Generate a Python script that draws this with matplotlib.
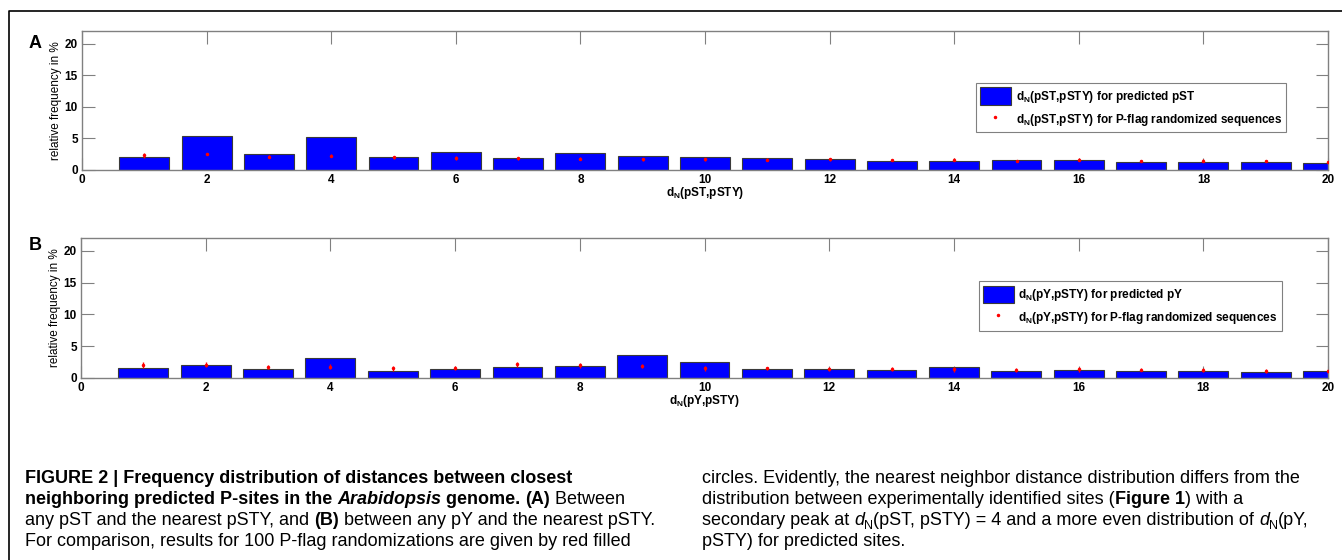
import numpy as np
import matplotlib
matplotlib.use('Agg')
import matplotlib.pyplot as plt
from matplotlib.lines import Line2D

plt.rcParams['font.family'] = ['Liberation Sans', 'DejaVu Sans']
plt.rcParams['mathtext.default'] = 'regular'

# data
dist = np.arange(1, 21)
pst_pred = [2.0, 5.4, 2.5, 5.3, 2.0, 2.8, 1.9, 2.65, 2.15, 2.05,
            1.95, 1.8, 1.5, 1.5, 1.6, 1.6, 1.3, 1.3, 1.3, 1.15]
pst_rand = [2.3, 2.5, 2.1, 2.25, 2.0, 1.9, 1.85, 1.8, 1.7, 1.7,
            1.65, 1.7, 1.55, 1.6, 1.5, 1.6, 1.5, 1.5, 1.45, 1.3]
pst_err = [0.35, 0.2, 0.25, 0.25, 0.2, 0.25, 0.25, 0.25, 0.2, 0.2,
           0.2, 0.2, 0.2, 0.25, 0.15, 0.25, 0.15, 0.25, 0.15, 0.2]
py_pred = [1.65, 2.1, 1.4, 3.2, 1.15, 1.45, 1.8, 1.95, 3.65, 2.5,
           1.45, 1.35, 1.25, 1.7, 1.1, 1.3, 1.05, 1.15, 0.9, 1.05]
py_rand = [2.0, 2.1, 1.75, 1.75, 1.5, 1.55, 2.15, 2.0, 1.85, 1.5,
           1.5, 1.45, 1.4, 1.35, 1.3, 1.35, 1.3, 1.25, 1.1, 1.05]
py_err = [0.5, 0.4, 0.35, 0.4, 0.35, 0.35, 0.4, 0.35, 0.35, 0.35,
          0.3, 0.3, 0.3, 0.35, 0.3, 0.35, 0.25, 0.35, 0.3, 0.3]
xticks = np.arange(0, 21, 2)
yticks = [0, 5, 10, 15, 20]

W, H = 1342, 560
fig = plt.figure(figsize=(W / 100, H / 100), dpi=100)

def px_axes(left, top, right, bottom):
    return fig.add_axes([left / W, 1 - bottom / H, (right - left) / W, (bottom - top) / H])

gray = '#808080'

def panel(ax, pred, rand, err, name, legx, legy):
    bars = ax.bar(dist, pred, width=0.8, color='#0000ff', edgecolor='#3a3a3a', linewidth=0.8,
                  label=r'd$_{N}$(%s,pSTY) for predicted %s' % (name, name), zorder=2)
    ax.errorbar(dist, rand, yerr=err, fmt='none', ecolor='red',
                elinewidth=1.0, capsize=0, zorder=3)
    dots, = ax.plot(dist, rand, '.', color='red', markersize=3, zorder=4,
                    label=r'd$_{N}$(%s,pSTY) for P-flag randomized sequences' % name)
    ax.set_xlim(0, 20)
    ax.set_ylim(0, 22)
    ax.set_xticks(xticks)
    ax.set_yticks(yticks)
    for s in ax.spines.values():
        s.set_color(gray)
        s.set_linewidth(1.0)
    ax.tick_params(direction='in', length=9, width=0.8, color=gray,
                   top=True, right=True, labelsize=8.5, pad=3)
    for lab in ax.get_xticklabels() + ax.get_yticklabels():
        lab.set_fontweight('bold')
    ax.set_ylabel('relative frequency in %', fontsize=8.5, labelpad=2)
    ax.set_xlabel(r'd$_{N}$(%s,pSTY)' % name, fontsize=8.5, fontweight='bold', labelpad=-1)
    leg = ax.legend(handles=[bars, dots], loc='upper left', bbox_to_anchor=(legx, legy),
                    borderaxespad=0, fancybox=False, framealpha=1, edgecolor=gray,
                    prop={'weight': 'bold', 'size': 8.5}, handlelength=2.6,
                    handleheight=1.9, labelspacing=0.5, borderpad=0.35,
                    handletextpad=0.4, markerscale=1.0)
    leg.get_frame().set_linewidth(0.8)

axA = px_axes(82, 31, 1328, 170)
panel(axA, pst_pred, pst_rand, pst_err, 'pST', 0.7175, 0.626)
axB = px_axes(81, 238, 1328, 378)
panel(axB, py_pred, py_rand, py_err, 'pY', 0.72, 0.69)

# panel letters
fig.text(35 / W, 1 - 43 / H, 'A', fontsize=13, fontweight='bold', ha='center', va='center')
fig.text(35 / W, 1 - 245 / H, 'B', fontsize=13, fontweight='bold', ha='center', va='center')

# frame round the figure (top and left only are visible)
fig.add_artist(Line2D([9 / W, 9 / W, 1], [0, 1 - 11 / H, 1 - 11 / H],
                      transform=fig.transFigure, color='black', linewidth=1.2))

# caption, drawn piece by piece
renderer = fig.canvas.get_renderer()
cap_size = 13

def draw_line(x, y, parts):
    for p in parts:
        txt, weight, style = p[0], p[1], p[2]
        sub = len(p) > 3
        size = cap_size * (0.7 if sub else 1.0)
        yy = y + (4 if sub else 0)
        t = fig.text(x / W, 1 - yy / H, txt, fontsize=size, fontweight=weight,
                     fontstyle=style, ha='left', va='baseline')
        x = t.get_window_extent(renderer).x1

n, b = 'normal', 'bold'
left_x, right_x = 25, 702
base = [483, 504, 525, 546]
left_lines = [
    [('FIGURE 2 | Frequency distribution of distances between closest', b, n)],
    [('neighboring predicted P-sites in the ', b, n), ('Arabidopsis', b, 'italic'),
     (' genome. ', b, n), ('(A)', b, n), (' Between', n, n)],
    [('any pST and the nearest pSTY, and ', n, n), ('(B)', b, n),
     (' between any pY and the nearest pSTY.', n, n)],
    [('For comparison, results for 100 P-flag randomizations are given by red filled', n, n)],
]
right_lines = [
    [('circles. Evidently, the nearest neighbor distance distribution differs from the', n, n)],
    [('distribution between experimentally identified sites (', n, n), ('Figure 1', b, n),
     (') with a', n, n)],
    [('secondary peak at ', n, n), ('d', n, 'italic'), ('N', n, n, 'sub'),
     ('(pST, pSTY) = 4 and a more even distribution of ', n, n), ('d', n, 'italic'),
     ('N', n, n, 'sub'), ('(pY,', n, n)],
    [('pSTY) for predicted sites.', n, n)],
]
for y, parts in zip(base, left_lines):
    draw_line(left_x, y, parts)
for y, parts in zip(base, right_lines):
    draw_line(right_x, y, parts)

fig.savefig('out.png', dpi=100)
